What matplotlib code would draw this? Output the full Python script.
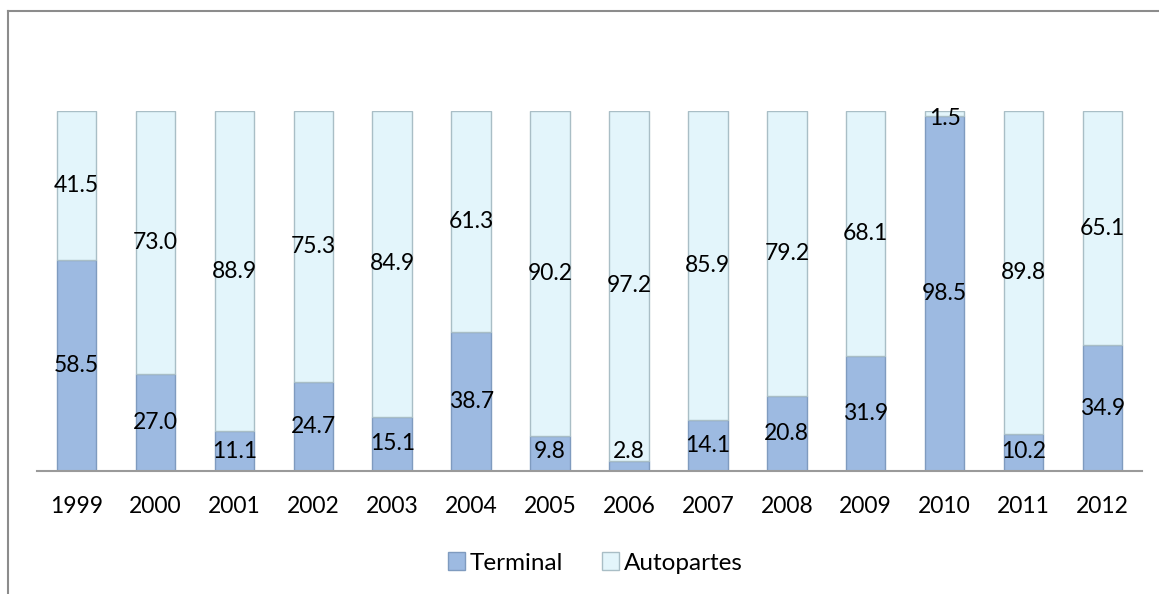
import numpy as np
import matplotlib.pyplot as plt
from matplotlib.lines import Line2D
plt.switch_backend("Agg")

years = ["1999", "2000", "2001", "2002", "2003", "2004", "2005",
         "2006", "2007", "2008", "2009", "2010", "2011", "2012"]
terminal = [58.5, 27.0, 11.1, 24.7, 15.1, 38.7, 9.8,
            2.8, 14.1, 20.8, 31.9, 98.5, 10.2, 34.9]
autopartes = [41.5, 73.0, 88.9, 75.3, 84.9, 61.3, 90.2,
              97.2, 85.9, 79.2, 68.1, 1.5, 89.8, 65.1]

plt.rcParams["font.family"] = ["Lato", "DejaVu Sans"]

fig = plt.figure(figsize=[11.59, 5.94], dpi=100)
ax = fig.add_axes([37 / 1159, 1 - 471 / 594, (1142 - 37) / 1159, (471 - 111) / 594])

x = np.arange(len(years))
term = np.array(terminal)
auto = np.array(autopartes)

ax.bar(x, term, width=0.5, color="#9DBAE1", edgecolor="#7F9BBF",
       linewidth=1.0, label="Terminal")
ax.bar(x, auto, width=0.5, bottom=term, color="#E3F5FB", edgecolor="#A9BEC6",
       linewidth=1.0, label="Autopartes")

# value labels, centred in each segment but kept inside the plot area
for i in range(len(years)):
    yt = np.clip(term[i] / 2, 5.3, 98.0)
    ya = np.clip(term[i] + auto[i] / 2, 5.3, 98.0)
    ax.text(x[i], yt, f"{term[i]:.1f}", ha="center", va="center",
            fontsize=16.5, color="black")
    ax.text(x[i], ya, f"{auto[i]:.1f}", ha="center", va="center",
            fontsize=16.5, color="black")

ax.set_xlim(-0.5, len(years) - 0.5)
ax.set_ylim(0, 100)
ax.set_yticks([])
ax.set_xticks(x)
ax.set_xticklabels(years, fontsize=16.5)
ax.tick_params(axis="x", length=0, pad=18)
for side in ["top", "left", "right"]:
    ax.spines[side].set_visible(False)
ax.spines["bottom"].set_color("#9A9A9A")
ax.spines["bottom"].set_linewidth(1.5)

ax.legend(loc="center", bbox_to_anchor=(595 / 1159, 1 - 563 / 594),
          bbox_transform=fig.transFigure, ncol=2, frameon=False,
          fontsize=17.5, handlelength=0.7, handleheight=0.7,
          handletextpad=0.2, columnspacing=1.6)

# outer frame (only top and left visible in the crop)
fig.add_artist(Line2D([7.5 / 1159, 1.0], [1 - 10.5 / 594, 1 - 10.5 / 594],
                      transform=fig.transFigure, color="#8C8C8C", linewidth=1.5))
fig.add_artist(Line2D([7.5 / 1159, 7.5 / 1159], [1 - 10.5 / 594, 0.0],
                      transform=fig.transFigure, color="#8C8C8C", linewidth=1.5))

fig.savefig("out.png")
plt.close()
